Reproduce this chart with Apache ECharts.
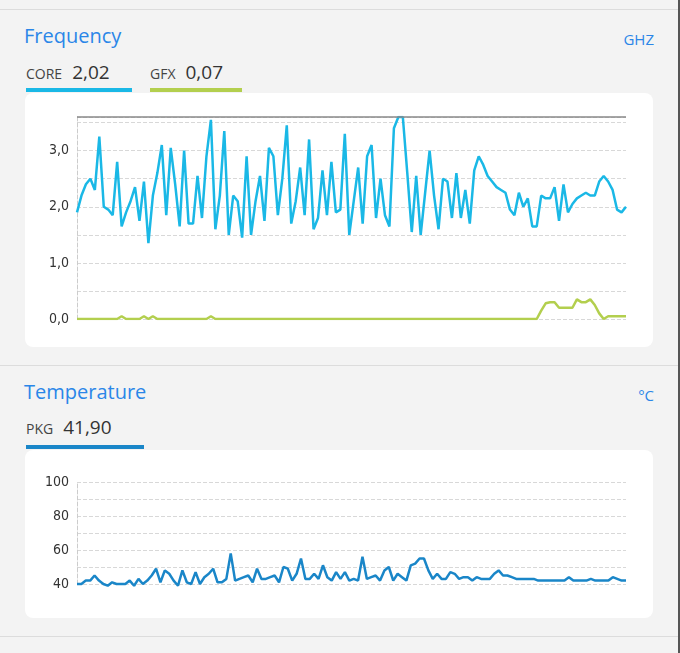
<!DOCTYPE html>
<html><head><meta charset="utf-8">
<script src="https://cdn.jsdelivr.net/npm/echarts@6/dist/echarts.min.js"></script>
<style>
body{margin:0;width:680px;height:653px;background:#f3f3f3;font-family:"Open Sans",sans-serif;position:relative;overflow:hidden}
.sep{position:absolute;left:0;width:680px;height:1px;background:#dcdcdc}
.title{position:absolute;left:24px;color:#2a86e8;font-size:20px}
.unit{position:absolute;right:26px;color:#2a86e8;font-size:15px}
.leg{position:absolute;font-size:14px;color:#444}
.leg b{font-weight:normal;font-size:19px;color:#333;margin-left:10px}
.bar{position:absolute;height:4px}
.panel{position:absolute;left:25px;width:628px;background:#fff;border-radius:8px}
</style></head><body>
<div class="sep" style="top:9px"></div>
<div class="sep" style="top:365px"></div>
<div class="sep" style="top:636px"></div>
<div style="position:absolute;right:0;top:0;width:2px;height:653px;background:#555"></div>
<div class="title" style="top:22px">Frequency</div>
<div class="unit" style="top:29px">GHZ</div>
<div class="leg" style="left:26px;top:59px">CORE<b>2,02</b></div>
<div class="leg" style="left:150px;top:59px">GFX<b>0,07</b></div>
<div class="bar" style="left:26px;top:88px;width:106px;background:#1ab8e6"></div>
<div class="bar" style="left:150px;top:88px;width:92px;background:#b3cf4e"></div>
<div class="panel" id="f" style="top:93px;height:254px"></div>
<div class="title" style="top:378px">Temperature</div>
<div class="unit" style="top:385px">°C</div>
<div class="leg" style="left:26px;top:414px">PKG<b>41,90</b></div>
<div class="bar" style="left:26px;top:445px;width:118px;background:#1a86c8"></div>
<div class="panel" id="t" style="top:450px;height:168px"></div>
<script>
const coreGhz = [1.9,2.2,2.4,2.5,2.3,3.25,2.0,1.95,1.85,2.8,
 1.65,1.9,2.1,2.35,1.75,2.45,1.35,2.2,2.6,3.1,
 1.85,3.05,2.4,1.65,3.0,1.7,1.7,2.55,1.8,2.9,
 3.55,1.6,2.2,3.35,1.5,2.2,2.1,1.45,2.9,1.5,
 2.1,2.55,1.75,3.05,2.9,1.85,2.5,3.45,1.7,2.1,
 2.7,1.85,3.2,1.6,1.8,2.65,1.85,2.8,1.9,1.95,
 3.3,1.5,2.1,2.7,1.7,2.9,3.1,1.8,2.5,1.85,
 1.65,3.4,3.6,3.6,2.6,1.55,2.55,1.5,2.25,3.0,
 2.2,1.6,2.5,2.45,1.8,2.6,1.8,2.3,1.7,2.65,
 2.9,2.75,2.55,2.45,2.35,2.3,2.25,1.95,1.85,2.25,2.0,2.15,1.65,1.65,2.2,2.15,2.15,
 2.35,1.75,2.4,1.9,2.05,2.15,2.2,2.25,2.2,2.2,2.45,2.55,2.45,2.3,1.95,1.9,2.0];
const gfxGhz = [0,0,0,0,0,0,0,0,0,0,0.05,0,0,0,0,0.05,0,0.05,0,0,0,0,0,0,0,0,0,0,0,0,
 0.05,0,0,0,0,0,0,0,0,0,0,0,0,0,0,0,0,0,0,0,0,0,0,0,0,0,0,0,0,0,
 0,0,0,0,0,0,0,0,0,0,0,0,0,0,0,0,0,0,0,0,0,0,0,0,0,0,0,0,0,0,
 0,0,0,0,0,0,0,0,0,0,0,0,0,0,0.15,0.28,0.3,0.3,0.2,0.2,0.2,0.2,0.35,0.3,
 0.3,0.35,0.25,0.1,0,0.05,0.05,0.05,0.05,0.05];
const pkgTemp = [40,40,42,42,45,42,40,39,41,40,40,40,42,39,43,40,42,45,49,41,48,46,42,39,48,41,40,47,40,44,
 46,49,41,41,43,58,42,43,44,45,41,49,43,43,44,45,41,50,49,42,46,55,43,43,46,43,51,44,42,47,
 43,47,42,43,42,56,43,44,45,42,48,50,42,46,44,42,51,52,55,55,48,43,46,43,43,47,46,43,44,44,
 42,44,43,43,43,46,48,45,45,44,43,43,43,43,43,42,42,42,42,42,42,42,44,42,42,42,42,43,42,42,
 42,42,44,43,42,42];
const freqTicks = [0,1,2,3];

function base(n){
  return {
    animation:false,
    xAxis:{type:'category',boundaryGap:false,data:Array.from({length:n},(_, i)=>i),
      axisLine:{show:false},axisTick:{show:false},axisLabel:{show:false},
      splitLine:{show:false}},
    yAxis:{type:'value',axisTick:{show:false},
      axisLine:{show:true,lineStyle:{color:'#ccc',type:'dashed'}},
      axisLabel:{color:'#333',fontSize:14,fontFamily:'DejaVu Sans Condensed'},
      splitLine:{lineStyle:{color:'#d8d8d8',type:'dashed'}}}
  };
}
const f = echarts.init(document.getElementById('f'));
const fo = base(coreGhz.length);
Object.assign(fo.yAxis,{min:0,max:3.6,interval:0.5,
  axisLabel:Object.assign(fo.yAxis.axisLabel,{formatter:v=>freqTicks.includes(v)?v.toFixed(1).replace('.',','):''})});
fo.grid={left:52,right:27,top:24,bottom:28};
fo.series=[
  {type:'line',data:coreGhz,symbol:'none',lineStyle:{color:'#1ab8e6',width:2.5},
   markLine:{silent:true,symbol:'none',label:{show:false},lineStyle:{color:'#888',type:'solid',width:1.5},data:[{yAxis:3.6}]}},
  {type:'line',data:gfxGhz,symbol:'none',lineStyle:{color:'#b3cf4e',width:2.5}}
];
f.setOption(fo);

const t = echarts.init(document.getElementById('t'));
const to = base(pkgTemp.length);
Object.assign(to.yAxis,{min:40,max:100,interval:10,
  axisLabel:Object.assign(to.yAxis.axisLabel,{formatter:v=>v%20===0?v:''})});
to.grid={left:52,right:27,top:32,bottom:34};
to.series=[{type:'line',data:pkgTemp,symbol:'none',clip:false,lineStyle:{color:'#1a86c8',width:2.5}}];
t.setOption(to);
</script>
</body></html>
